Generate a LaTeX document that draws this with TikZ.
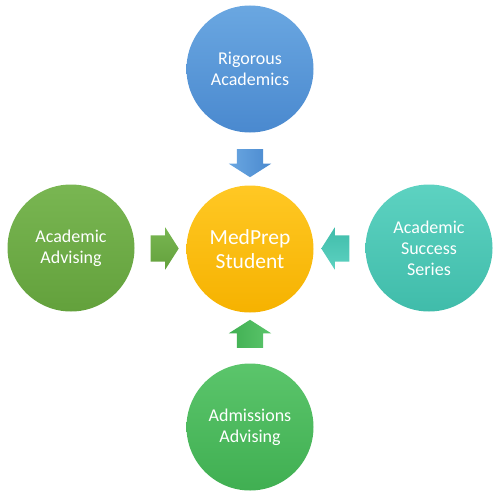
\documentclass[tikz,border=0pt]{standalone}
\usepackage{fontspec}
\setmainfont{Carlito}
\usetikzlibrary{shapes.arrows,calc}
\definecolor{blueA}{HTML}{6AA7E1}
\definecolor{blueB}{HTML}{4A89CF}
\definecolor{goldA}{HTML}{FFC824}
\definecolor{goldB}{HTML}{F6B200}
\definecolor{leafA}{HTML}{79B652}
\definecolor{leafB}{HTML}{63A13C}
\definecolor{tealA}{HTML}{5DD2C1}
\definecolor{tealB}{HTML}{40BCAA}
\definecolor{mintA}{HTML}{5BC56B}
\definecolor{mintB}{HTML}{40AF52}
\begin{document}
\begin{tikzpicture}[x=1pt, y=-1pt,
            topic/.style={circle, minimum size=127pt, inner sep=0pt, align=center, text=white, font=\fontsize{18}{21}\selectfont},
            hub/.style={topic, font=\fontsize{21.5}{24}\selectfont},
            push/.style={single arrow, minimum height=28pt, inner xsep=0pt, inner ysep=13pt, single arrow head extend=8pt, single arrow tip angle=115, single arrow head indent=0pt}
        ]
            \useasboundingbox (0,0) rectangle (500,500);
            \node(student) at (250,249) [hub, top color=goldA, bottom color=goldB] {MedPrep\\Student};
            \node(rigorous) at (250,69) [topic, top color=blueA, bottom color=blueB] {Rigorous\\Academics};
            \node(advising) at (71,248) [topic, top color=leafA, bottom color=leafB] {Academic\\Advising};
            \node(success) at (429,248) [topic, top color=tealA, bottom color=tealB] {Academic\\Success\\Series};
            \node(admissions) at (250,427) [topic, top color=mintA, bottom color=mintB] {Admissions\\Advising};
            \node(toparrow) at ($(rigorous)!0.5!(student)$) [push, rotate=-90, left color=blueA, right color=blueB] {};
            \node(leftarrow) at ($(advising)!0.5!(student)$) [push, top color=leafA, bottom color=leafB] {};
            \node(rightarrow) at ($(success)!0.5!(student)$) [push, rotate=180, top color=tealB, bottom color=tealA] {};
            \node(bottomarrow) at ($(admissions)!0.5!(student)$) [push, rotate=90, left color=mintB, right color=mintA] {};
        \end{tikzpicture}
\end{document}
